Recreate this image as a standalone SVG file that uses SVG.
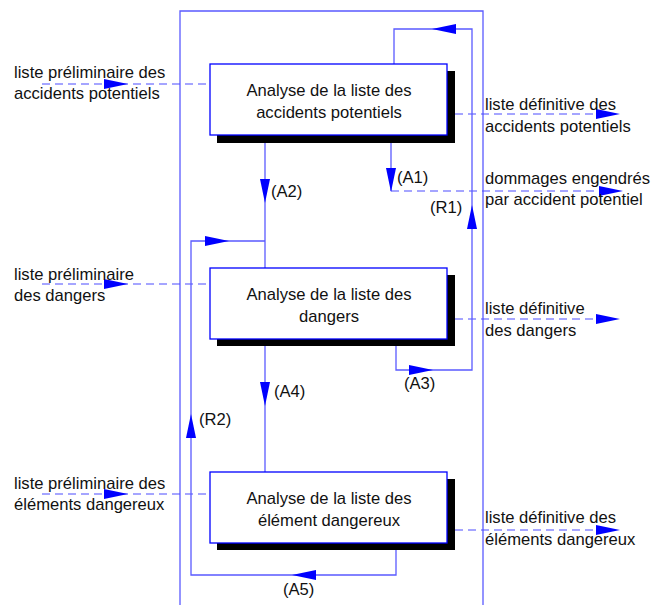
<svg xmlns="http://www.w3.org/2000/svg" xmlns:xlink="http://www.w3.org/1999/xlink" width="664" height="605" viewBox="0 0 664 605">
<style>
.ln{fill:none;stroke:#5a5aff;stroke-width:1.3}
.dash{fill:none;stroke:#4d4dff;stroke-width:1.2;stroke-dasharray:8,5}
.box{fill:#fff;stroke:#0000ff;stroke-width:1.3}
.sh{fill:#000}
.t{font-family:"Liberation Sans",Arial,sans-serif;font-size:16.6px;fill:#111}
.c{text-anchor:middle}
.ah{fill:#0000ff}
</style>
<defs>
<polygon id="ar" class="ah" points="0,0 -24,-5 -24,5"/>
</defs>
<rect width="664" height="605" fill="#fff"/>
<g id="frame">
<path class="ln" d="M180,605 V11 H483 V605"/>
</g>
<g id="connectors">
<path class="dash" d="M42,84 H210"/>
<path class="dash" d="M42,284 H210"/>
<path class="dash" d="M42,494 H210"/>
<path class="dash" d="M455,114 H600"/>
<path class="dash" d="M391,191 H603"/>
<path class="dash" d="M455,319 H600"/>
<path class="dash" d="M455,530 H600"/>
<path class="ln" d="M265,135 V268"/>
<path class="ln" d="M391,135 V191"/>
<path class="ln" d="M396,339 V370 H472 V29 H394 V64"/>
<path class="ln" d="M265,339 V472"/>
<path class="ln" d="M396,543 V575 H191 V241 H265"/>
<use xlink:href="#ar" transform="translate(128,84)"/>
<use xlink:href="#ar" transform="translate(128,284)"/>
<use xlink:href="#ar" transform="translate(128,494)"/>
<use xlink:href="#ar" transform="translate(620,114)"/>
<use xlink:href="#ar" transform="translate(623,191)"/>
<use xlink:href="#ar" transform="translate(620,319)"/>
<use xlink:href="#ar" transform="translate(620,530)"/>
<use xlink:href="#ar" transform="translate(432,29) rotate(180)"/>
<use xlink:href="#ar" transform="translate(265,203) rotate(90)"/>
<use xlink:href="#ar" transform="translate(391,192) rotate(90)"/>
<use xlink:href="#ar" transform="translate(472,205) rotate(-90)"/>
<use xlink:href="#ar" transform="translate(229,241)"/>
<use xlink:href="#ar" transform="translate(433,370)"/>
<use xlink:href="#ar" transform="translate(265,406) rotate(90)"/>
<use xlink:href="#ar" transform="translate(191,414) rotate(-90)"/>
<use xlink:href="#ar" transform="translate(292,575) rotate(180)"/>
<text class="t" x="271" y="197">(A2)</text>
<text class="t" x="397" y="183">(A1)</text>
<text class="t" x="430" y="213">(R1)</text>
<text class="t" x="404" y="389">(A3)</text>
<text class="t" x="274" y="397">(A4)</text>
<text class="t" x="199" y="425">(R2)</text>
<text class="t" x="283" y="595">(A5)</text>
</g>
<g id="box1">
<rect class="sh" x="217" y="71" width="238" height="72"/>
<rect class="box" x="210" y="64" width="237" height="71"/>
<text class="t c" x="329" y="96">Analyse de la liste des</text>
<text class="t c" x="329" y="118">accidents potentiels</text>
</g>
<g id="box2">
<rect class="sh" x="217" y="275" width="238" height="71"/>
<rect class="box" x="210" y="268" width="237" height="71"/>
<text class="t c" x="329" y="300">Analyse de la liste des</text>
<text class="t c" x="329" y="322">dangers</text>
</g>
<g id="box3">
<rect class="sh" x="217" y="479" width="238" height="71"/>
<rect class="box" x="210" y="472" width="237" height="71"/>
<text class="t c" x="329" y="504">Analyse de la liste des</text>
<text class="t c" x="329" y="526">élément dangereux</text>
</g>
<g id="in1">
<text class="t" x="14" y="78">liste préliminaire des</text>
<text class="t" x="14" y="99">accidents potentiels</text>
</g>
<g id="in2">
<text class="t" x="14" y="280">liste préliminaire</text>
<text class="t" x="14" y="301">des dangers</text>
</g>
<g id="in3">
<text class="t" x="14" y="489">liste préliminaire des</text>
<text class="t" x="14" y="510">éléments dangereux</text>
</g>
<g id="out1">
<text class="t" x="485" y="110">liste définitive des</text>
<text class="t" x="485" y="132">accidents potentiels</text>
</g>
<g id="out2">
<text class="t" x="485" y="184">dommages engendrés</text>
<text class="t" x="485" y="205">par accident potentiel</text>
</g>
<g id="out3">
<text class="t" x="485" y="314">liste définitive</text>
<text class="t" x="485" y="336">des dangers</text>
</g>
<g id="out4">
<text class="t" x="485" y="523">liste définitive des</text>
<text class="t" x="485" y="545">éléments dangereux</text>
</g>
</svg>
